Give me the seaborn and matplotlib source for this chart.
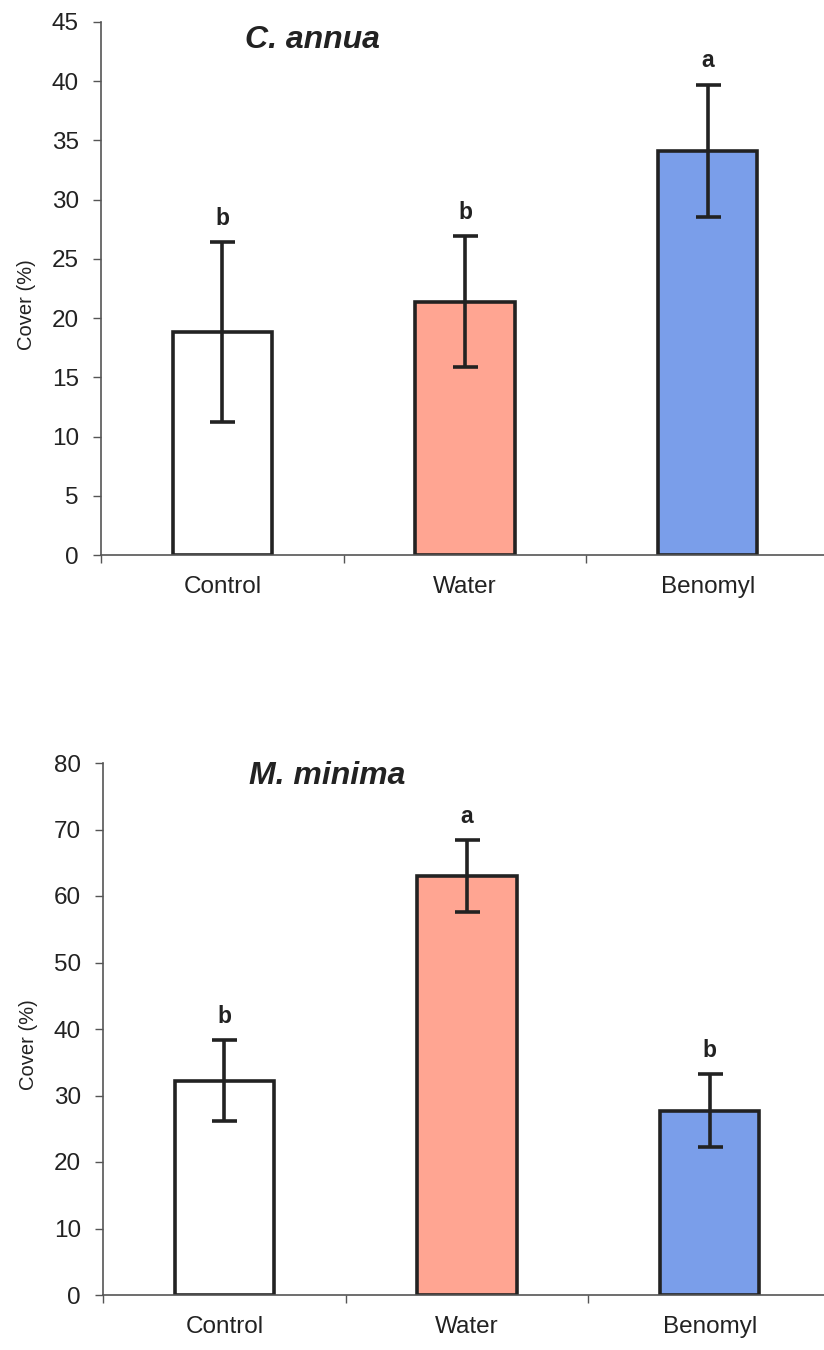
import matplotlib
matplotlib.use("Agg")
import matplotlib.pyplot as plt
import seaborn as sns
import pandas as pd
from matplotlib.ticker import FixedLocator

categories = ["Control", "Water", "Benomyl"]
annua_mean = [18.8, 21.4, 34.1]
annua_err = [7.6, 5.5, 5.6]
annua_letters = ["b", "b", "a"]
minima_mean = [32.2, 63.0, 27.7]
minima_err = [6.1, 5.4, 5.5]
minima_letters = ["b", "a", "b"]
annua_yticks = [0, 5, 10, 15, 20, 25, 30, 35, 40, 45]
minima_yticks = [0, 10, 20, 30, 40, 50, 60, 70, 80]

colors = ["#FFFFFF", "#FFA592", "#7A9EEA"]

sns.set_theme(style="white")
plt.rcParams["font.family"] = ["Liberation Sans", "DejaVu Sans"]

fig = plt.figure(figsize=(8.24, 13.5), dpi=100)

W, H = 824, 1350

def make_panel(rect_px, means, errs, letters, yticks, title, title_x, title_y):
    l, t, r, b = rect_px
    ax = fig.add_axes([l / W, (H - b) / H, (r - l) / W, (b - t) / H])
    df = pd.DataFrame({"cat": categories, "val": means})
    sns.barplot(data=df, x="cat", y="val", hue="cat", palette=colors,
                order=categories, hue_order=categories, legend=False,
                width=0.41, edgecolor="#222222", linewidth=2.6, ax=ax,
                errorbar=None, saturation=1)
    ax.errorbar(range(len(categories)), means, yerr=errs, fmt="none",
                ecolor="#222222", elinewidth=2.6, capsize=9, capthick=2.6,
                zorder=5)
    for i, (m, e, s) in enumerate(zip(means, errs, letters)):
        ax.annotate(s, (i, m + e), xytext=(0, 9), textcoords="offset points",
                    ha="center", va="bottom", fontsize=16.5, fontweight="bold",
                    color="#222222")
    ax.set_xlim(-0.5, 2.5)
    ax.set_ylim(yticks[0], yticks[-1])
    ax.set_yticks(yticks)
    ax.set_xlabel("")
    ax.set_ylabel("Cover (%)", fontsize=14.5, color="#222222")
    ax.yaxis.set_label_coords(-0.089, 0.47)
    ax.xaxis.set_minor_locator(FixedLocator([-0.5, 0.5, 1.5, 2.5]))
    ax.tick_params(axis="x", which="major", length=0, labelsize=17.5,
                   colors="#222222", pad=15)
    ax.tick_params(axis="x", which="minor", length=6, width=1,
                   direction="out", color="#555555", bottom=True)
    ax.tick_params(axis="y", which="major", length=6, width=1,
                   direction="out", color="#555555", labelsize=17.5,
                   labelcolor="#222222", left=True, pad=10)
    for sp in ["top", "right"]:
        ax.spines[sp].set_visible(False)
    for sp in ["left", "bottom"]:
        ax.spines[sp].set_color("#555555")
        ax.spines[sp].set_linewidth(1.2)
    ax.text(title_x, title_y, title, transform=ax.transAxes, ha="center",
            va="center", fontsize=23, fontweight="bold", fontstyle="italic",
            color="#222222")
    return ax

make_panel((101, 22, 829, 555), annua_mean, annua_err, annua_letters,
           annua_yticks, "C. annua", 0.29, 0.967)
make_panel((103, 763, 831, 1295), minima_mean, minima_err, minima_letters,
           minima_yticks, "M. minima", 0.308, 0.975)

fig.savefig("out.png", dpi=100, facecolor="white")
